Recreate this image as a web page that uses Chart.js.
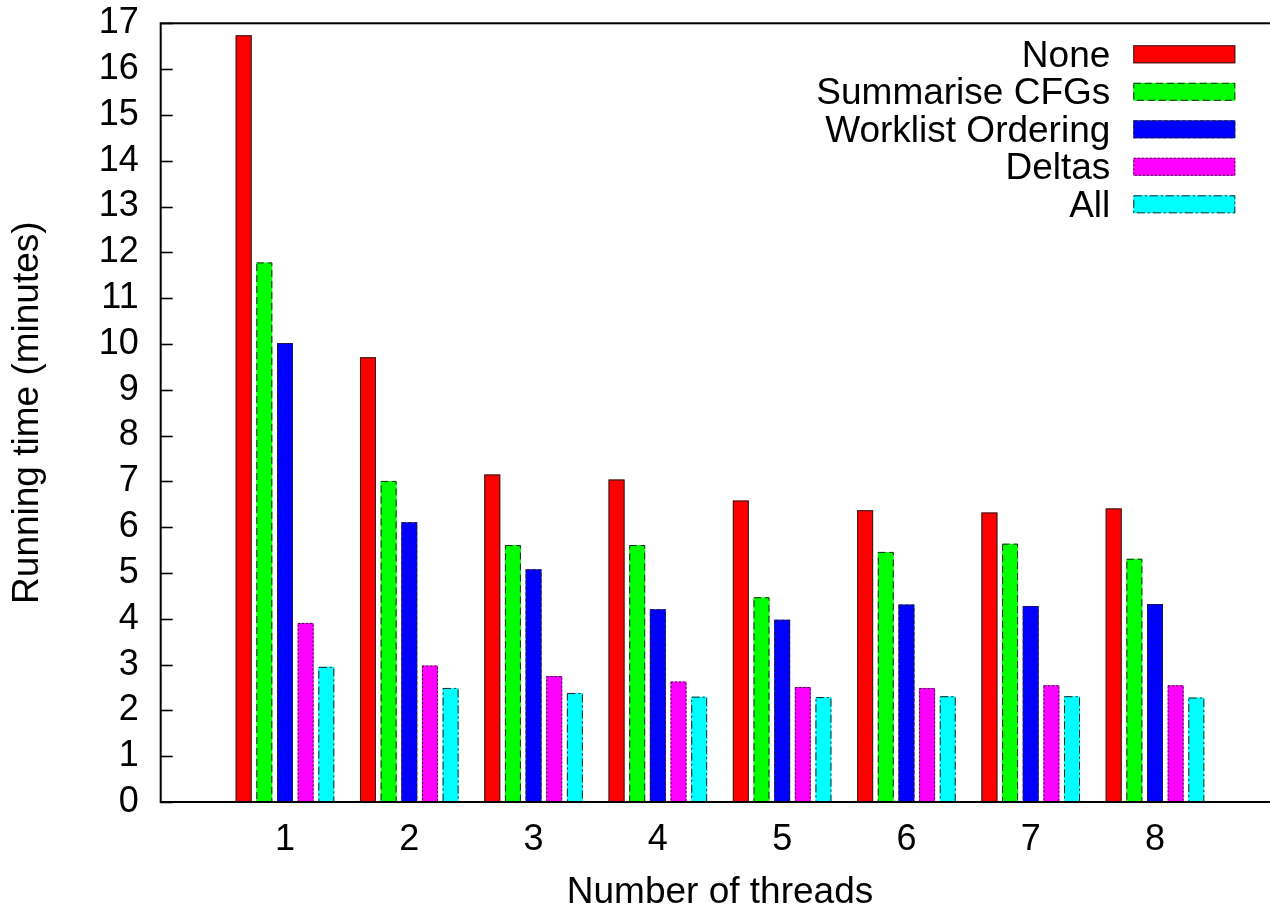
<!DOCTYPE html>
<html>
<head>
<meta charset="utf-8">
<title>Running time by number of threads</title>
<script src="https://cdn.jsdelivr.net/npm/chart.js@4.4.1/dist/chart.umd.min.js"></script>
<style>
  html, body { margin: 0; padding: 0; background: #fff; overflow: hidden; }
  #wrap { width: 1290px; height: 911px; }
</style>
</head>
<body>
<div id="wrap"><canvas id="chart" width="1290" height="911"></canvas></div>
<script>
// Number of worker threads (x categories)
const threads = [1, 2, 3, 4, 5, 6, 7, 8];

// Running time in minutes for each optimisation setting
const noneTimes      = [16.74, 9.71, 7.15, 7.04, 6.58, 6.37, 6.32, 6.41];
const summariseTimes = [11.78, 7.01, 5.61, 5.61, 4.47, 5.46, 5.64, 5.31];
const worklistTimes  = [10.02, 6.11, 5.08, 4.21, 3.98, 4.31, 4.28, 4.32];
const deltasTimes    = [3.91, 2.98, 2.75, 2.63, 2.51, 2.49, 2.55, 2.55];
const allTimes       = [2.95, 2.49, 2.38, 2.30, 2.29, 2.31, 2.31, 2.28];

const seriesLabels = ['None', 'Summarise CFGs', 'Worklist Ordering', 'Deltas', 'All'];
const seriesColors = ['#ff0000', '#00ff00', '#0000ff', '#ff00ff', '#00ffff'];
const seriesDashes = [[], [7, 4], [4, 2], [2, 2], [8, 3, 2, 3]];
const seriesValues = [noneTimes, summariseTimes, worklistTimes, deltasTimes, allTimes];

const FAMILY = '"Liberation Sans", Arial, Helvetica, sans-serif';
const TICK_FONT = { family: FAMILY, size: 36 };
const TEXT_FONT = { family: FAMILY, size: 37 };

const datasets = seriesLabels.map((label, i) => ({
  label,
  data: threads.map((t, j) => ({ x: t, y: seriesValues[i][j] })),
  backgroundColor: seriesColors[i],
  borderWidth: 0,
  dash: seriesDashes[i]
}));

// Frame, inward ticks, dashed bar outlines and the key
const decorations = {
  id: 'decorations',
  afterDatasetsDraw(chart) {
    const ctx = chart.ctx;
    ctx.save();
    ctx.strokeStyle = '#222';
    ctx.lineWidth = 1;
    chart.data.datasets.forEach((ds, i) => {
      const meta = chart.getDatasetMeta(i);
      ctx.setLineDash(ds.dash);
      meta.data.forEach(bar => {
        const left = bar.x - bar.width / 2;
        ctx.strokeRect(left + 0.5, bar.y + 0.5, bar.width - 1, bar.base - bar.y - 0.5);
      });
    });
    ctx.restore();
  },
  afterDraw(chart) {
    const ctx = chart.ctx;
    const a = chart.chartArea;
    const y = chart.scales.y;
    ctx.save();
    // ticks pointing into the plot
    ctx.strokeStyle = '#000';
    ctx.lineWidth = 1.6;
    y.ticks.forEach(t => {
      const py = Math.round(y.getPixelForValue(t.value)) + 0.5;
      ctx.beginPath();
      ctx.moveTo(a.left, py);
      ctx.lineTo(a.left + 12, py);
      ctx.stroke();
    });
    // border
    ctx.lineWidth = 2;
    ctx.strokeRect(a.left, a.top, a.right - a.left, a.bottom - a.top);

    // key
    ctx.font = TEXT_FONT.size + 'px ' + TEXT_FONT.family;
    ctx.textAlign = 'right';
    ctx.textBaseline = 'middle';
    const textRight = a.right - 169;
    const boxLeft = a.right - 146;
    const boxW = 102, boxH = 18;
    chart.data.datasets.forEach((ds, i) => {
      const cy = a.top + 31 + i * 37.5;
      ctx.fillStyle = '#000';
      ctx.fillText(ds.label, textRight, cy + 2);
      ctx.fillStyle = ds.backgroundColor;
      ctx.fillRect(boxLeft, cy - boxH / 2, boxW, boxH);
      ctx.setLineDash(ds.dash);
      ctx.strokeStyle = '#222';
      ctx.lineWidth = 1;
      ctx.strokeRect(boxLeft + 0.5, cy - boxH / 2 + 0.5, boxW - 1, boxH - 1);
      ctx.setLineDash([]);
    });
    ctx.restore();
  }
};

new Chart(document.getElementById('chart'), {
  type: 'bar',
  data: { datasets },
  options: {
    responsive: false,
    animation: false,
    layout: { padding: { left: 0, right: 10.7, top: 23.3, bottom: 0 } },
    categoryPercentage: 0.831,
    barPercentage: 0.774,
    plugins: { legend: { display: false }, tooltip: { enabled: false } },
    scales: {
      x: {
        type: 'linear',
        offset: false,
        min: 0,
        max: 9,
        afterBuildTicks(scale) { scale.ticks = threads.map(v => ({ value: v })); },
        afterFit(scale) { scale.height = 109; scale.paddingLeft = 0; scale.paddingRight = 0; },
        grid: { display: false, drawTicks: false },
        border: { display: false },
        ticks: { color: '#000', font: TICK_FONT, padding: 16, maxRotation: 0, autoSkip: false },
        title: { display: true, text: 'Number of threads', color: '#000', font: TEXT_FONT, padding: { top: 0, bottom: -4 } }
      },
      y: {
        min: 0,
        max: 17,
        afterFit(scale) { scale.width = 160.7; scale.paddingTop = 0; scale.paddingBottom = 0; },
        grid: { display: false, drawTicks: false },
        border: { display: false },
        ticks: { stepSize: 1, autoSkip: false, color: '#000', font: TICK_FONT, padding: 22 },
        title: { display: true, text: 'Running time (minutes)', color: '#000', font: TEXT_FONT, padding: { top: 6, bottom: 0 } }
      }
    }
  },
  plugins: [decorations]
});
</script>
</body>
</html>
